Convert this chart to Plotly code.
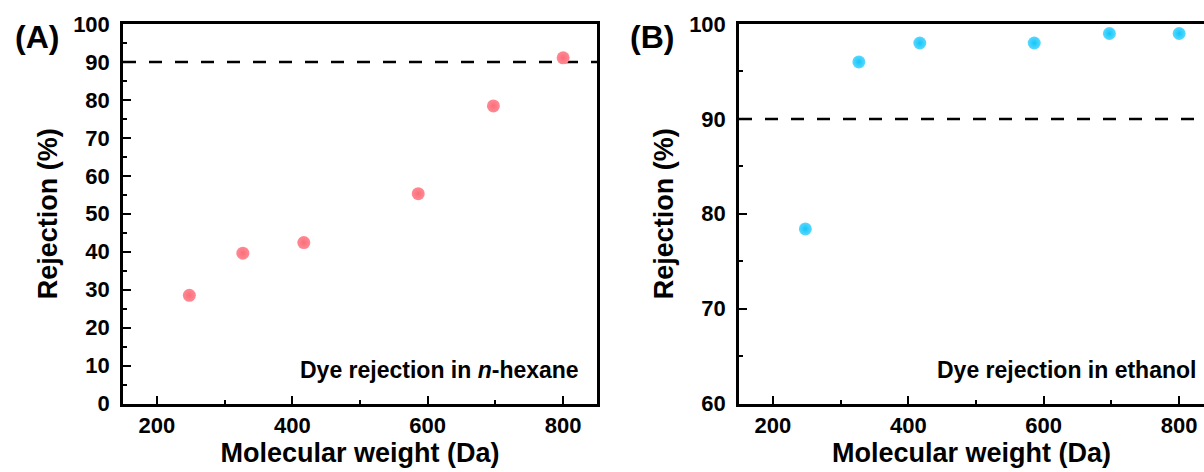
import plotly.graph_objects as go

# Dye molecular weights (Da) and rejection (%)
mw = [248, 327, 417, 586, 697, 800]
rej_hexane = [28.5, 39.6, 42.4, 55.3, 78.4, 91.1]
rej_ethanol = [78.4, 96.0, 98.0, 98.0, 99.0, 99.0]
threshold = 90

x_ticks = [200, 400, 600, 800]
y_ticks_a = [0, 10, 20, 30, 40, 50, 60, 70, 80, 90, 100]
y_ticks_b = [60, 70, 80, 90, 100]

W, H = 1204, 472
FONT = "Liberation Sans, Arial, Helvetica, sans-serif"
RED = "#FA6E7A"
CYAN = "#12C6F8"

# plot-area geometry (pixels)
ax_l, ax_r = 123, 597
bx_l = 739
top, bottom = 24, 403.5
x_lo, x_hi = 150, 850
px_per_unit = (ax_r - ax_l) / (x_hi - x_lo)
bx_hi = x_lo + (W - bx_l) / px_per_unit  # panel B runs off the right edge

ydom = [1 - bottom / H, 1 - top / H]

fig = go.Figure()
fig.add_trace(go.Scatter(
    x=mw, y=rej_hexane, mode="markers", xaxis="x", yaxis="y",
    marker=dict(size=13, color="#FF8A94", gradient=dict(type="radial", color=RED),
                line=dict(width=0)),
    showlegend=False, cliponaxis=False))
fig.add_trace(go.Scatter(
    x=mw, y=rej_ethanol, mode="markers", xaxis="x2", yaxis="y2",
    marker=dict(size=13, color="#5AD8FF", gradient=dict(type="radial", color=CYAN),
                line=dict(width=0)),
    showlegend=False, cliponaxis=False))

tickfont = dict(family=FONT, size=22, color="black", weight="bold")
titlefont = dict(family=FONT, size=27, color="black", weight="bold")

common_x = dict(
    tickvals=x_ticks, ticks="inside", ticklen=8, tickwidth=2, tickcolor="black",
    showline=True, linewidth=2.5, linecolor="black", mirror=True,
    showgrid=False, zeroline=False, tickfont=tickfont, automargin=False,
    minor=dict(ticks="inside", ticklen=4, tickwidth=2, tickcolor="black",
               tickvals=[300, 500, 700], showgrid=False),
    title=dict(text="Molecular weight (Da)", font=titlefont, standoff=6),
)
common_y = dict(
    ticks="inside", ticklen=8, tickwidth=2, tickcolor="black",
    showline=True, linewidth=2.5, linecolor="black",
    showgrid=False, zeroline=False, tickfont=tickfont, automargin=False,
    ticklabelstandoff=6,
    title=dict(text="Rejection (%)", font=titlefont, standoff=8),
)

fig.update_layout(
    width=W, height=H,
    margin=dict(l=0, r=0, t=0, b=0, autoexpand=False),
    paper_bgcolor="white", plot_bgcolor="white",
    xaxis=dict(domain=[ax_l / W, ax_r / W], range=[x_lo, x_hi], anchor="y", **common_x),
    yaxis=dict(domain=ydom, range=[0, 100], anchor="x", tickvals=y_ticks_a, mirror=True,
               minor=dict(ticks="inside", ticklen=4, tickwidth=2, tickcolor="black",
                          tickvals=[v + 5 for v in y_ticks_a[:-1]], showgrid=False),
               **common_y),
    xaxis2=dict(domain=[bx_l / W, 1.0], range=[x_lo, bx_hi], anchor="y2", **common_x),
    yaxis2=dict(domain=ydom, range=[60, 100], anchor="x2", tickvals=y_ticks_b, mirror=False,
                minor=dict(ticks="inside", ticklen=4, tickwidth=2, tickcolor="black",
                           tickvals=[v + 5 for v in y_ticks_b[:-1]], showgrid=False),
                **common_y),
)

# 90 % reference lines
for xr, yr in (("x", "y"), ("x2", "y2")):
    fig.add_shape(type="line", xref=f"{xr} domain", yref=yr, x0=0, x1=1,
                  y0=threshold, y1=threshold,
                  line=dict(color="black", width=2.5, dash="13px,13px"), layer="below")

labelfont = dict(family=FONT, size=32, color="black", weight="bold")
fig.add_annotation(text="(A)", xref="paper", yref="paper", x=37 / W, y=1 - 37 / H,
                   showarrow=False, font=labelfont, xanchor="center", yanchor="middle")
fig.add_annotation(text="(B)", xref="paper", yref="paper", x=652 / W, y=1 - 37 / H,
                   showarrow=False, font=labelfont, xanchor="center", yanchor="middle")

notefont = dict(family=FONT, size=23, color="black", weight="bold")
fig.add_annotation(text="Dye rejection in <i>n</i>-hexane", xref="paper", yref="paper",
                   x=581 / W, y=1 - 370 / H, showarrow=False, font=notefont,
                   xanchor="right", yanchor="middle")
fig.add_annotation(text="Dye rejection in ethanol", xref="paper", yref="paper",
                   x=1198 / W, y=1 - 370 / H, showarrow=False, font=notefont,
                   xanchor="right", yanchor="middle")

fig.write_html("out.html")
